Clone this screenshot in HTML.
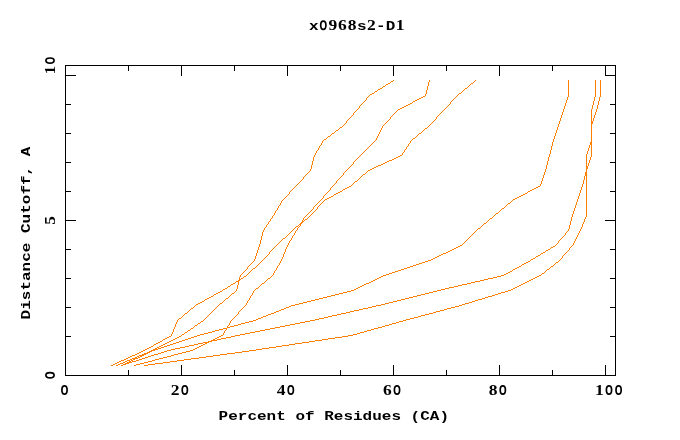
<!DOCTYPE html>
<html><head><meta charset="utf-8"><style>
html,body{margin:0;padding:0;background:#fff;width:680px;height:440px;overflow:hidden}
svg{position:absolute;left:0;top:0;will-change:transform}
</style></head><body>
<svg width="680" height="440" viewBox="0 0 680 440">
<path fill="#ff8000" shape-rendering="crispEdges" d="M391 81h2v1h-2zM388 83h2v1h-2zM471 83h2v1h-2zM386 84h2v1h-2zM383 86h2v1h-2zM380 88h2v1h-2zM465 88h2v1h-2zM378 89h2v1h-2zM375 91h2v1h-2zM372 93h2v1h-2zM459 93h2v1h-2zM370 94h2v1h-2zM423 96h2v1h-2zM421 97h2v1h-2zM419 98h2v1h-2zM417 99h2v1h-2zM415 100h2v1h-2zM413 101h2v1h-2zM410 103h2v1h-2zM408 104h2v1h-2zM406 105h2v1h-2zM404 106h2v1h-2zM402 107h2v1h-2zM400 108h2v1h-2zM398 109h2v1h-2zM591 121h2v1h-2zM591 122h2v1h-2zM591 123h2v1h-2zM340 127h2v1h-2zM425 128h2v1h-2zM336 130h2v1h-2zM332 133h2v1h-2zM419 133h2v1h-2zM328 136h2v1h-2zM413 138h2v1h-2zM324 139h2v1h-2zM590 142h2v1h-2zM590 143h2v1h-2zM590 144h2v1h-2zM400 155h2v1h-2zM398 156h2v1h-2zM396 157h2v1h-2zM394 158h2v1h-2zM392 159h2v1h-2zM389 160h3v1h-3zM387 161h2v1h-2zM385 162h2v1h-2zM383 163h2v1h-2zM381 164h2v1h-2zM378 165h3v1h-3zM376 166h2v1h-2zM586 166h2v1h-2zM374 167h2v1h-2zM586 167h2v1h-2zM372 168h2v1h-2zM586 168h2v1h-2zM370 169h2v1h-2zM368 170h2v1h-2zM585 172h2v1h-2zM585 173h2v1h-2zM363 174h2v1h-2zM585 174h2v1h-2zM585 175h2v1h-2zM355 181h2v1h-2zM349 186h2v1h-2zM538 186h2v1h-2zM347 187h2v1h-2zM536 187h2v1h-2zM345 188h2v1h-2zM534 188h2v1h-2zM343 189h2v1h-2zM532 189h2v1h-2zM530 190h2v1h-2zM340 191h2v1h-2zM528 191h2v1h-2zM338 192h2v1h-2zM336 193h2v1h-2zM525 193h2v1h-2zM334 194h2v1h-2zM523 194h2v1h-2zM521 195h2v1h-2zM331 196h2v1h-2zM519 196h2v1h-2zM329 197h2v1h-2zM517 197h2v1h-2zM327 198h2v1h-2zM515 198h2v1h-2zM325 199h2v1h-2zM513 199h2v1h-2zM508 203h2v1h-2zM502 208h2v1h-2zM496 213h2v1h-2zM490 218h2v1h-2zM305 219h2v1h-2zM302 221h2v1h-2zM301 222h2v1h-2zM300 223h2v1h-2zM484 223h2v1h-2zM299 224h2v1h-2zM296 226h2v1h-2zM478 228h2v1h-2zM283 238h2v1h-2zM460 245h2v1h-2zM458 246h2v1h-2zM553 246h2v1h-2zM456 247h2v1h-2zM551 247h2v1h-2zM454 248h2v1h-2zM452 249h2v1h-2zM548 249h2v1h-2zM450 250h2v1h-2zM546 250h2v1h-2zM448 251h2v1h-2zM446 252h2v1h-2zM543 252h2v1h-2zM443 253h3v1h-3zM541 253h2v1h-2zM441 254h2v1h-2zM439 255h2v1h-2zM538 255h2v1h-2zM437 256h2v1h-2zM536 256h2v1h-2zM435 257h2v1h-2zM433 258h2v1h-2zM533 258h2v1h-2zM431 259h2v1h-2zM531 259h2v1h-2zM428 260h3v1h-3zM425 261h3v1h-3zM528 261h2v1h-2zM422 262h3v1h-3zM526 262h2v1h-2zM556 262h2v1h-2zM419 263h3v1h-3zM524 263h2v1h-2zM416 264h3v1h-3zM522 264h2v1h-2zM413 265h3v1h-3zM410 266h3v1h-3zM519 266h2v1h-2zM551 266h2v1h-2zM407 267h3v1h-3zM517 267h2v1h-2zM253 268h2v1h-2zM404 268h3v1h-3zM515 268h2v1h-2zM401 269h3v1h-3zM513 269h2v1h-2zM547 269h2v1h-2zM398 270h3v1h-3zM395 271h3v1h-3zM510 271h2v1h-2zM392 272h3v1h-3zM508 272h2v1h-2zM389 273h3v1h-3zM506 273h2v1h-2zM542 273h2v1h-2zM386 274h3v1h-3zM504 274h2v1h-2zM383 275h3v1h-3zM501 275h3v1h-3zM539 275h2v1h-2zM244 276h2v1h-2zM381 276h2v1h-2zM497 276h4v1h-4zM537 276h2v1h-2zM379 277h2v1h-2zM493 277h4v1h-4zM535 277h2v1h-2zM241 278h2v1h-2zM268 278h2v1h-2zM377 278h2v1h-2zM488 278h5v1h-5zM533 278h2v1h-2zM239 279h2v1h-2zM375 279h2v1h-2zM484 279h4v1h-4zM531 279h2v1h-2zM238 280h2v1h-2zM373 280h2v1h-2zM480 280h4v1h-4zM529 280h2v1h-2zM236 281h3v1h-3zM371 281h2v1h-2zM475 281h5v1h-5zM527 281h2v1h-2zM369 282h2v1h-2zM471 282h4v1h-4zM525 282h2v1h-2zM233 283h2v1h-2zM262 283h2v1h-2zM366 283h3v1h-3zM467 283h4v1h-4zM523 283h2v1h-2zM231 284h2v1h-2zM364 284h2v1h-2zM462 284h5v1h-5zM521 284h2v1h-2zM362 285h2v1h-2zM458 285h4v1h-4zM519 285h2v1h-2zM228 286h2v1h-2zM360 286h2v1h-2zM454 286h4v1h-4zM517 286h2v1h-2zM358 287h2v1h-2zM449 287h5v1h-5zM515 287h2v1h-2zM225 288h2v1h-2zM256 288h2v1h-2zM356 288h2v1h-2zM445 288h4v1h-4zM513 288h2v1h-2zM223 289h2v1h-2zM354 289h2v1h-2zM441 289h4v1h-4zM511 289h2v1h-2zM351 290h3v1h-3zM437 290h4v1h-4zM508 290h3v1h-3zM220 291h2v1h-2zM347 291h4v1h-4zM433 291h4v1h-4zM505 291h3v1h-3zM218 292h2v1h-2zM343 292h4v1h-4zM429 292h4v1h-4zM501 292h4v1h-4zM216 293h2v1h-2zM232 293h2v1h-2zM339 293h4v1h-4zM425 293h4v1h-4zM498 293h3v1h-3zM214 294h2v1h-2zM335 294h4v1h-4zM421 294h4v1h-4zM495 294h3v1h-3zM331 295h4v1h-4zM417 295h4v1h-4zM492 295h3v1h-3zM211 296h2v1h-2zM327 296h4v1h-4zM413 296h4v1h-4zM488 296h4v1h-4zM209 297h2v1h-2zM323 297h4v1h-4zM409 297h4v1h-4zM485 297h3v1h-3zM207 298h2v1h-2zM226 298h2v1h-2zM319 298h4v1h-4zM405 298h4v1h-4zM482 298h3v1h-3zM205 299h2v1h-2zM315 299h4v1h-4zM401 299h4v1h-4zM478 299h4v1h-4zM311 300h4v1h-4zM397 300h4v1h-4zM475 300h3v1h-3zM202 301h2v1h-2zM307 301h4v1h-4zM393 301h4v1h-4zM472 301h3v1h-3zM200 302h2v1h-2zM303 302h4v1h-4zM389 302h4v1h-4zM469 302h3v1h-3zM198 303h2v1h-2zM220 303h2v1h-2zM299 303h4v1h-4zM385 303h4v1h-4zM465 303h4v1h-4zM196 304h2v1h-2zM295 304h4v1h-4zM381 304h4v1h-4zM462 304h3v1h-3zM291 305h4v1h-4zM376 305h5v1h-5zM459 305h3v1h-3zM289 306h2v1h-2zM372 306h4v1h-4zM455 306h4v1h-4zM286 307h3v1h-3zM368 307h4v1h-4zM451 307h4v1h-4zM191 308h2v1h-2zM284 308h2v1h-2zM363 308h5v1h-5zM447 308h4v1h-4zM281 309h3v1h-3zM359 309h4v1h-4zM444 309h3v1h-3zM279 310h2v1h-2zM354 310h5v1h-5zM440 310h4v1h-4zM276 311h3v1h-3zM350 311h4v1h-4zM436 311h4v1h-4zM274 312h2v1h-2zM346 312h4v1h-4zM433 312h3v1h-3zM185 313h2v1h-2zM271 313h3v1h-3zM341 313h5v1h-5zM429 313h4v1h-4zM268 314h3v1h-3zM337 314h4v1h-4zM425 314h4v1h-4zM266 315h2v1h-2zM332 315h5v1h-5zM421 315h4v1h-4zM263 316h3v1h-3zM328 316h4v1h-4zM418 316h3v1h-3zM261 317h2v1h-2zM324 317h4v1h-4zM414 317h4v1h-4zM179 318h2v1h-2zM258 318h3v1h-3zM319 318h5v1h-5zM410 318h4v1h-4zM256 319h2v1h-2zM315 319h4v1h-4zM406 319h4v1h-4zM253 320h3v1h-3zM310 320h5v1h-5zM403 320h3v1h-3zM201 321h2v1h-2zM249 321h4v1h-4zM305 321h5v1h-5zM399 321h4v1h-4zM245 322h4v1h-4zM300 322h5v1h-5zM396 322h3v1h-3zM198 323h2v1h-2zM241 323h4v1h-4zM295 323h5v1h-5zM392 323h4v1h-4zM238 324h3v1h-3zM290 324h5v1h-5zM389 324h3v1h-3zM195 325h2v1h-2zM234 325h4v1h-4zM285 325h5v1h-5zM385 325h4v1h-4zM230 326h4v1h-4zM280 326h5v1h-5zM382 326h3v1h-3zM227 327h3v1h-3zM275 327h5v1h-5zM378 327h4v1h-4zM191 328h2v1h-2zM223 328h4v1h-4zM270 328h5v1h-5zM374 328h4v1h-4zM219 329h4v1h-4zM265 329h5v1h-5zM371 329h3v1h-3zM188 330h2v1h-2zM215 330h4v1h-4zM260 330h5v1h-5zM367 330h4v1h-4zM212 331h3v1h-3zM255 331h5v1h-5zM364 331h3v1h-3zM185 332h2v1h-2zM208 332h4v1h-4zM250 332h5v1h-5zM360 332h4v1h-4zM204 333h4v1h-4zM245 333h5v1h-5zM357 333h3v1h-3zM182 334h2v1h-2zM200 334h4v1h-4zM240 334h5v1h-5zM353 334h4v1h-4zM197 335h3v1h-3zM221 335h2v1h-2zM235 335h5v1h-5zM348 335h5v1h-5zM169 336h2v1h-2zM179 336h2v1h-2zM194 336h3v1h-3zM219 336h2v1h-2zM231 336h4v1h-4zM342 336h6v1h-6zM167 337h2v1h-2zM177 337h2v1h-2zM191 337h3v1h-3zM217 337h2v1h-2zM226 337h5v1h-5zM335 337h7v1h-7zM165 338h2v1h-2zM175 338h2v1h-2zM188 338h3v1h-3zM215 338h2v1h-2zM221 338h5v1h-5zM328 338h7v1h-7zM163 339h2v1h-2zM173 339h2v1h-2zM185 339h3v1h-3zM213 339h2v1h-2zM217 339h4v1h-4zM322 339h6v1h-6zM171 340h2v1h-2zM182 340h3v1h-3zM211 340h6v1h-6zM315 340h7v1h-7zM160 341h2v1h-2zM169 341h2v1h-2zM179 341h3v1h-3zM208 341h4v1h-4zM309 341h6v1h-6zM158 342h2v1h-2zM167 342h2v1h-2zM176 342h3v1h-3zM203 342h6v1h-6zM302 342h7v1h-7zM156 343h2v1h-2zM165 343h2v1h-2zM173 343h3v1h-3zM198 343h5v1h-5zM205 343h2v1h-2zM295 343h7v1h-7zM154 344h2v1h-2zM163 344h2v1h-2zM170 344h3v1h-3zM194 344h4v1h-4zM203 344h2v1h-2zM289 344h6v1h-6zM161 345h2v1h-2zM167 345h3v1h-3zM189 345h5v1h-5zM201 345h2v1h-2zM282 345h7v1h-7zM151 346h2v1h-2zM159 346h2v1h-2zM164 346h3v1h-3zM185 346h4v1h-4zM199 346h2v1h-2zM276 346h6v1h-6zM149 347h2v1h-2zM157 347h2v1h-2zM161 347h3v1h-3zM180 347h5v1h-5zM197 347h2v1h-2zM269 347h7v1h-7zM147 348h2v1h-2zM155 348h2v1h-2zM158 348h3v1h-3zM175 348h5v1h-5zM195 348h2v1h-2zM262 348h7v1h-7zM145 349h2v1h-2zM153 349h5v1h-5zM171 349h4v1h-4zM193 349h2v1h-2zM256 349h6v1h-6zM143 350h2v1h-2zM151 350h4v1h-4zM167 350h4v1h-4zM190 350h3v1h-3zM249 350h7v1h-7zM141 351h2v1h-2zM149 351h3v1h-3zM164 351h3v1h-3zM186 351h4v1h-4zM242 351h7v1h-7zM139 352h2v1h-2zM147 352h3v1h-3zM161 352h3v1h-3zM182 352h4v1h-4zM235 352h7v1h-7zM137 353h2v1h-2zM144 353h4v1h-4zM158 353h3v1h-3zM178 353h4v1h-4zM227 353h8v1h-8zM135 354h2v1h-2zM142 354h4v1h-4zM154 354h4v1h-4zM174 354h4v1h-4zM220 354h7v1h-7zM132 355h3v1h-3zM139 355h5v1h-5zM151 355h3v1h-3zM171 355h3v1h-3zM213 355h7v1h-7zM130 356h2v1h-2zM137 356h2v1h-2zM140 356h2v1h-2zM148 356h3v1h-3zM167 356h4v1h-4zM206 356h7v1h-7zM128 357h2v1h-2zM135 357h2v1h-2zM138 357h2v1h-2zM145 357h3v1h-3zM163 357h4v1h-4zM199 357h7v1h-7zM126 358h2v1h-2zM132 358h6v1h-6zM142 358h3v1h-3zM159 358h4v1h-4zM191 358h8v1h-8zM124 359h2v1h-2zM130 359h2v1h-2zM133 359h2v1h-2zM139 359h3v1h-3zM155 359h4v1h-4zM184 359h7v1h-7zM121 360h3v1h-3zM127 360h3v1h-3zM131 360h2v1h-2zM136 360h3v1h-3zM152 360h3v1h-3zM177 360h7v1h-7zM119 361h2v1h-2zM125 361h2v1h-2zM129 361h2v1h-2zM132 361h4v1h-4zM148 361h4v1h-4zM170 361h7v1h-7zM117 362h2v1h-2zM123 362h2v1h-2zM127 362h5v1h-5zM144 362h4v1h-4zM163 362h7v1h-7zM115 363h2v1h-2zM120 363h3v1h-3zM125 363h4v1h-4zM140 363h4v1h-4zM155 363h8v1h-8zM113 364h2v1h-2zM118 364h2v1h-2zM123 364h3v1h-3zM136 364h4v1h-4zM148 364h7v1h-7zM111 365h2v1h-2zM116 365h2v1h-2zM121 365h2v1h-2zM134 365h2v1h-2zM144 365h4v1h-4zM393 80h1v1h-1zM393 114h1v1h-1zM429 80h1v2h-1zM429 125h1v1h-1zM475 80h1v1h-1zM475 231h1v1h-1zM568 80h1v17h-1zM568 229h1v2h-1zM568 250h1v1h-1zM595 80h1v17h-1zM595 112h1v3h-1zM600 80h1v17h-1zM474 81h1v1h-1zM474 232h1v1h-1zM390 82h1v1h-1zM390 117h1v2h-1zM428 82h1v4h-1zM428 126h1v1h-1zM473 82h1v1h-1zM473 233h1v1h-1zM470 84h1v1h-1zM470 236h1v1h-1zM385 85h1v1h-1zM385 123h1v1h-1zM469 85h1v1h-1zM469 237h1v1h-1zM427 86h1v4h-1zM427 127h1v1h-1zM468 86h1v1h-1zM468 238h1v1h-1zM382 87h1v1h-1zM382 126h1v2h-1zM467 87h1v1h-1zM467 239h1v1h-1zM464 89h1v1h-1zM464 242h1v1h-1zM377 90h1v1h-1zM377 136h1v2h-1zM426 90h1v4h-1zM463 90h1v1h-1zM463 243h1v1h-1zM462 91h1v1h-1zM462 244h1v1h-1zM374 92h1v1h-1zM374 141h1v1h-1zM461 92h1v1h-1zM425 94h1v2h-1zM458 94h1v1h-1zM369 95h1v1h-1zM369 146h1v1h-1zM457 95h1v1h-1zM368 96h1v1h-1zM368 147h1v1h-1zM456 96h1v1h-1zM367 97h1v1h-1zM367 148h1v1h-1zM367 171h1v1h-1zM455 97h1v1h-1zM567 97h1v3h-1zM567 231h1v1h-1zM567 251h1v1h-1zM594 97h1v4h-1zM594 115h1v3h-1zM599 97h1v4h-1zM366 98h1v2h-1zM366 149h1v1h-1zM366 172h1v1h-1zM454 98h1v1h-1zM453 99h1v1h-1zM365 100h1v1h-1zM365 150h1v1h-1zM365 173h1v1h-1zM452 100h1v1h-1zM566 100h1v3h-1zM566 232h1v1h-1zM566 252h1v1h-1zM364 101h1v1h-1zM364 151h1v1h-1zM451 101h1v1h-1zM593 101h1v4h-1zM593 118h1v3h-1zM598 101h1v4h-1zM363 102h1v1h-1zM363 152h1v1h-1zM412 102h1v1h-1zM412 139h1v1h-1zM450 102h1v2h-1zM362 103h1v1h-1zM362 153h1v1h-1zM362 175h1v1h-1zM565 103h1v3h-1zM565 233h1v2h-1zM565 253h1v1h-1zM361 104h1v1h-1zM361 154h1v1h-1zM361 176h1v1h-1zM449 104h1v1h-1zM360 105h1v1h-1zM360 155h1v1h-1zM360 177h1v1h-1zM448 105h1v1h-1zM592 105h1v4h-1zM597 105h1v4h-1zM359 106h1v2h-1zM359 156h1v1h-1zM359 178h1v1h-1zM447 106h1v1h-1zM564 106h1v3h-1zM564 235h1v1h-1zM564 254h1v1h-1zM446 107h1v1h-1zM358 108h1v1h-1zM358 157h1v1h-1zM358 179h1v1h-1zM445 108h1v1h-1zM357 109h1v1h-1zM357 158h1v1h-1zM357 180h1v1h-1zM444 109h1v1h-1zM563 109h1v3h-1zM563 236h1v1h-1zM563 255h1v1h-1zM591 109h1v12h-1zM591 124h1v18h-1zM591 145h1v12h-1zM596 109h1v3h-1zM356 110h1v1h-1zM356 159h1v1h-1zM397 110h1v1h-1zM443 110h1v1h-1zM355 111h1v1h-1zM355 160h1v1h-1zM396 111h1v1h-1zM442 111h1v1h-1zM354 112h1v1h-1zM354 161h1v1h-1zM354 182h1v1h-1zM395 112h1v1h-1zM441 112h1v1h-1zM562 112h1v3h-1zM562 237h1v1h-1zM562 256h1v2h-1zM353 113h1v2h-1zM353 162h1v2h-1zM353 183h1v1h-1zM394 113h1v1h-1zM440 113h1v1h-1zM439 114h1v1h-1zM352 115h1v1h-1zM352 164h1v1h-1zM352 184h1v1h-1zM392 115h1v1h-1zM438 115h1v1h-1zM561 115h1v3h-1zM561 238h1v1h-1zM561 258h1v1h-1zM351 116h1v1h-1zM351 165h1v1h-1zM351 185h1v1h-1zM391 116h1v1h-1zM437 116h1v1h-1zM350 117h1v1h-1zM350 166h1v1h-1zM436 117h1v2h-1zM349 118h1v1h-1zM349 167h1v1h-1zM560 118h1v3h-1zM560 239h1v1h-1zM560 259h1v1h-1zM348 119h1v1h-1zM348 168h1v1h-1zM389 119h1v1h-1zM435 119h1v1h-1zM347 120h1v1h-1zM347 169h1v1h-1zM388 120h1v1h-1zM434 120h1v1h-1zM346 121h1v2h-1zM346 170h1v1h-1zM387 121h1v1h-1zM433 121h1v1h-1zM559 121h1v3h-1zM559 240h1v1h-1zM559 260h1v1h-1zM386 122h1v1h-1zM432 122h1v1h-1zM345 123h1v1h-1zM345 171h1v1h-1zM431 123h1v1h-1zM344 124h1v1h-1zM344 172h1v1h-1zM384 124h1v1h-1zM430 124h1v1h-1zM558 124h1v3h-1zM558 241h1v2h-1zM558 261h1v1h-1zM343 125h1v1h-1zM343 173h1v2h-1zM383 125h1v1h-1zM342 126h1v1h-1zM342 175h1v1h-1zM342 190h1v1h-1zM557 127h1v3h-1zM557 243h1v1h-1zM339 128h1v1h-1zM339 178h1v1h-1zM381 128h1v2h-1zM338 129h1v1h-1zM338 179h1v1h-1zM424 129h1v1h-1zM380 130h1v2h-1zM423 130h1v1h-1zM556 130h1v3h-1zM556 244h1v1h-1zM335 131h1v1h-1zM335 183h1v1h-1zM422 131h1v1h-1zM334 132h1v1h-1zM334 184h1v1h-1zM379 132h1v2h-1zM421 132h1v1h-1zM555 133h1v3h-1zM555 245h1v1h-1zM555 263h1v1h-1zM331 134h1v1h-1zM331 187h1v1h-1zM378 134h1v2h-1zM418 134h1v1h-1zM330 135h1v1h-1zM330 188h1v2h-1zM417 135h1v1h-1zM416 136h1v1h-1zM554 136h1v3h-1zM554 264h1v1h-1zM327 137h1v1h-1zM327 192h1v1h-1zM415 137h1v1h-1zM326 138h1v1h-1zM326 193h1v1h-1zM376 138h1v2h-1zM553 139h1v3h-1zM553 265h1v1h-1zM323 140h1v1h-1zM323 196h1v2h-1zM323 201h1v1h-1zM375 140h1v1h-1zM411 140h1v1h-1zM322 141h1v2h-1zM322 198h1v1h-1zM322 202h1v1h-1zM410 141h1v2h-1zM373 142h1v1h-1zM552 142h1v4h-1zM321 143h1v2h-1zM321 199h1v1h-1zM321 203h1v1h-1zM372 143h1v1h-1zM409 143h1v1h-1zM371 144h1v1h-1zM408 144h1v2h-1zM320 145h1v1h-1zM320 200h1v1h-1zM320 204h1v1h-1zM370 145h1v1h-1zM589 145h1v3h-1zM589 160h1v3h-1zM319 146h1v2h-1zM319 201h1v1h-1zM319 205h1v1h-1zM407 146h1v1h-1zM551 146h1v4h-1zM406 147h1v2h-1zM318 148h1v2h-1zM318 202h1v1h-1zM318 206h1v1h-1zM588 148h1v3h-1zM588 163h1v3h-1zM405 149h1v1h-1zM317 150h1v1h-1zM317 203h1v1h-1zM317 207h1v2h-1zM404 150h1v2h-1zM550 150h1v4h-1zM550 248h1v1h-1zM550 267h1v1h-1zM316 151h1v2h-1zM316 204h1v1h-1zM316 209h1v1h-1zM587 151h1v3h-1zM403 152h1v1h-1zM315 153h1v2h-1zM315 205h1v1h-1zM315 210h1v1h-1zM402 153h1v2h-1zM549 154h1v3h-1zM549 268h1v1h-1zM586 154h1v12h-1zM586 169h1v3h-1zM586 176h1v41h-1zM314 155h1v2h-1zM314 206h1v1h-1zM314 211h1v1h-1zM313 157h1v4h-1zM313 207h1v2h-1zM313 212h1v1h-1zM548 157h1v4h-1zM590 157h1v3h-1zM312 161h1v4h-1zM312 209h1v1h-1zM312 213h1v1h-1zM547 161h1v4h-1zM311 165h1v4h-1zM311 210h1v1h-1zM311 214h1v1h-1zM546 165h1v4h-1zM546 270h1v1h-1zM310 169h1v2h-1zM310 211h1v1h-1zM310 215h1v1h-1zM545 169h1v3h-1zM545 251h1v1h-1zM545 271h1v1h-1zM309 171h1v1h-1zM309 212h1v1h-1zM309 216h1v1h-1zM308 172h1v1h-1zM308 213h1v1h-1zM308 217h1v1h-1zM544 172h1v3h-1zM544 272h1v1h-1zM307 173h1v1h-1zM307 214h1v1h-1zM307 218h1v1h-1zM306 174h1v1h-1zM306 215h1v1h-1zM305 175h1v1h-1zM305 216h1v1h-1zM543 175h1v3h-1zM304 176h1v1h-1zM304 217h1v1h-1zM304 220h1v1h-1zM341 176h1v1h-1zM584 176h1v4h-1zM584 219h1v3h-1zM303 177h1v2h-1zM303 218h1v2h-1zM340 177h1v1h-1zM542 178h1v3h-1zM302 179h1v1h-1zM302 220h1v1h-1zM301 180h1v1h-1zM337 180h1v1h-1zM583 180h1v4h-1zM583 222h1v2h-1zM300 181h1v1h-1zM300 225h1v1h-1zM336 181h1v2h-1zM541 181h1v3h-1zM541 274h1v1h-1zM299 182h1v1h-1zM299 226h1v1h-1zM298 183h1v1h-1zM298 225h1v1h-1zM298 227h1v1h-1zM297 184h1v1h-1zM297 228h1v2h-1zM540 184h1v2h-1zM540 254h1v1h-1zM582 184h1v3h-1zM582 224h1v3h-1zM296 185h1v1h-1zM296 230h1v1h-1zM333 185h1v1h-1zM333 195h1v1h-1zM295 186h1v1h-1zM295 227h1v1h-1zM295 231h1v2h-1zM332 186h1v1h-1zM294 187h1v1h-1zM294 228h1v1h-1zM294 233h1v2h-1zM581 187h1v3h-1zM581 227h1v2h-1zM293 188h1v1h-1zM293 229h1v1h-1zM293 235h1v1h-1zM292 189h1v1h-1zM292 230h1v1h-1zM292 236h1v2h-1zM291 190h1v1h-1zM291 231h1v1h-1zM291 238h1v2h-1zM329 190h1v1h-1zM580 190h1v3h-1zM580 229h1v2h-1zM290 191h1v1h-1zM290 232h1v1h-1zM290 240h1v1h-1zM328 191h1v1h-1zM289 192h1v2h-1zM289 233h1v1h-1zM289 241h1v2h-1zM527 192h1v1h-1zM579 193h1v3h-1zM579 231h1v2h-1zM288 194h1v1h-1zM288 234h1v1h-1zM288 243h1v2h-1zM325 194h1v1h-1zM287 195h1v1h-1zM287 235h1v1h-1zM287 245h1v2h-1zM324 195h1v1h-1zM324 200h1v1h-1zM286 196h1v1h-1zM286 236h1v1h-1zM286 247h1v2h-1zM578 196h1v3h-1zM578 233h1v2h-1zM285 197h1v1h-1zM285 237h1v1h-1zM285 249h1v3h-1zM284 198h1v1h-1zM284 252h1v2h-1zM283 199h1v1h-1zM283 254h1v3h-1zM577 199h1v3h-1zM577 235h1v2h-1zM282 200h1v1h-1zM282 239h1v1h-1zM282 257h1v2h-1zM512 200h1v1h-1zM512 270h1v1h-1zM281 201h1v2h-1zM281 240h1v1h-1zM281 259h1v2h-1zM511 201h1v1h-1zM510 202h1v1h-1zM576 202h1v3h-1zM576 237h1v2h-1zM280 203h1v2h-1zM280 241h1v1h-1zM280 261h1v2h-1zM507 204h1v1h-1zM279 205h1v1h-1zM279 242h1v1h-1zM279 263h1v2h-1zM506 205h1v1h-1zM575 205h1v3h-1zM575 239h1v2h-1zM278 206h1v2h-1zM278 243h1v1h-1zM278 265h1v1h-1zM505 206h1v1h-1zM504 207h1v1h-1zM277 208h1v2h-1zM277 244h1v1h-1zM277 266h1v2h-1zM574 208h1v3h-1zM574 241h1v2h-1zM501 209h1v1h-1zM276 210h1v1h-1zM276 245h1v1h-1zM276 268h1v2h-1zM500 210h1v1h-1zM275 211h1v2h-1zM275 246h1v1h-1zM275 270h1v1h-1zM499 211h1v1h-1zM573 211h1v3h-1zM573 243h1v2h-1zM498 212h1v1h-1zM274 213h1v2h-1zM274 247h1v1h-1zM274 271h1v2h-1zM495 214h1v1h-1zM572 214h1v3h-1zM572 245h1v1h-1zM273 215h1v1h-1zM273 248h1v1h-1zM273 273h1v2h-1zM494 215h1v1h-1zM272 216h1v2h-1zM272 249h1v1h-1zM272 275h1v1h-1zM493 216h1v1h-1zM492 217h1v1h-1zM571 217h1v4h-1zM571 246h1v1h-1zM585 217h1v2h-1zM271 218h1v1h-1zM271 250h1v1h-1zM271 276h1v1h-1zM270 219h1v2h-1zM270 251h1v1h-1zM270 277h1v1h-1zM489 219h1v1h-1zM488 220h1v1h-1zM269 221h1v1h-1zM269 252h1v2h-1zM487 221h1v1h-1zM570 221h1v4h-1zM570 247h1v1h-1zM268 222h1v2h-1zM268 254h1v1h-1zM486 222h1v1h-1zM267 224h1v1h-1zM267 255h1v1h-1zM267 279h1v1h-1zM483 224h1v1h-1zM266 225h1v2h-1zM266 256h1v1h-1zM266 280h1v1h-1zM482 225h1v1h-1zM569 225h1v4h-1zM569 248h1v2h-1zM481 226h1v1h-1zM265 227h1v1h-1zM265 257h1v1h-1zM265 281h1v1h-1zM480 227h1v1h-1zM264 228h1v2h-1zM264 258h1v1h-1zM264 282h1v1h-1zM477 229h1v1h-1zM263 230h1v2h-1zM263 259h1v1h-1zM476 230h1v1h-1zM262 232h1v4h-1zM262 260h1v1h-1zM472 234h1v1h-1zM471 235h1v1h-1zM261 236h1v4h-1zM261 261h1v1h-1zM261 284h1v1h-1zM260 240h1v4h-1zM260 262h1v1h-1zM260 285h1v1h-1zM466 240h1v1h-1zM465 241h1v1h-1zM259 244h1v3h-1zM259 263h1v1h-1zM259 286h1v1h-1zM258 247h1v3h-1zM258 264h1v1h-1zM258 287h1v1h-1zM257 250h1v3h-1zM257 265h1v1h-1zM256 253h1v3h-1zM256 266h1v1h-1zM255 256h1v3h-1zM255 267h1v1h-1zM255 289h1v1h-1zM535 257h1v1h-1zM254 259h1v2h-1zM254 290h1v1h-1zM530 260h1v1h-1zM253 261h1v1h-1zM253 291h1v2h-1zM252 262h1v1h-1zM252 269h1v1h-1zM252 293h1v2h-1zM251 263h1v1h-1zM251 270h1v1h-1zM251 295h1v1h-1zM250 264h1v1h-1zM250 271h1v1h-1zM250 296h1v2h-1zM249 265h1v1h-1zM249 272h1v1h-1zM249 298h1v2h-1zM521 265h1v1h-1zM248 266h1v1h-1zM248 273h1v1h-1zM248 300h1v1h-1zM247 267h1v2h-1zM247 274h1v1h-1zM247 301h1v2h-1zM246 269h1v1h-1zM246 275h1v1h-1zM246 303h1v2h-1zM245 270h1v1h-1zM245 305h1v1h-1zM244 271h1v1h-1zM244 306h1v1h-1zM243 272h1v1h-1zM243 277h1v1h-1zM243 307h1v1h-1zM242 273h1v1h-1zM242 308h1v1h-1zM241 274h1v1h-1zM241 309h1v1h-1zM240 275h1v2h-1zM240 310h1v1h-1zM239 277h1v2h-1zM239 311h1v1h-1zM235 282h1v1h-1zM235 291h1v1h-1zM235 316h1v1h-1zM238 282h1v3h-1zM238 312h1v2h-1zM230 285h1v1h-1zM230 295h1v1h-1zM230 321h1v2h-1zM237 285h1v4h-1zM237 314h1v1h-1zM227 287h1v1h-1zM227 326h1v1h-1zM236 289h1v2h-1zM236 315h1v1h-1zM222 290h1v1h-1zM222 302h1v1h-1zM234 292h1v1h-1zM234 317h1v1h-1zM231 294h1v1h-1zM231 320h1v1h-1zM213 295h1v1h-1zM213 310h1v1h-1zM229 296h1v1h-1zM229 323h1v2h-1zM228 297h1v1h-1zM228 325h1v1h-1zM225 299h1v1h-1zM225 330h1v1h-1zM204 300h1v1h-1zM204 319h1v1h-1zM224 300h1v1h-1zM224 331h1v2h-1zM223 301h1v1h-1zM223 333h1v2h-1zM219 304h1v1h-1zM195 305h1v1h-1zM218 305h1v1h-1zM194 306h1v1h-1zM194 326h1v1h-1zM217 306h1v1h-1zM193 307h1v1h-1zM193 327h1v1h-1zM216 307h1v1h-1zM215 308h1v1h-1zM190 309h1v1h-1zM190 329h1v1h-1zM214 309h1v1h-1zM189 310h1v1h-1zM188 311h1v1h-1zM212 311h1v1h-1zM187 312h1v1h-1zM187 331h1v1h-1zM211 312h1v1h-1zM210 313h1v1h-1zM184 314h1v1h-1zM184 333h1v1h-1zM209 314h1v1h-1zM183 315h1v1h-1zM208 315h1v1h-1zM182 316h1v1h-1zM207 316h1v1h-1zM181 317h1v1h-1zM181 335h1v1h-1zM206 317h1v1h-1zM205 318h1v1h-1zM233 318h1v1h-1zM178 319h1v1h-1zM232 319h1v1h-1zM177 320h1v2h-1zM203 320h1v1h-1zM176 322h1v2h-1zM200 322h1v1h-1zM175 324h1v3h-1zM197 324h1v1h-1zM174 327h1v2h-1zM173 329h1v3h-1zM226 329h1v1h-1zM172 332h1v2h-1zM171 334h1v2h-1zM162 340h1v1h-1zM153 345h1v1h-1z"/>
<g shape-rendering="crispEdges">
<rect x="65.5" y="65.5" width="550" height="310" fill="none" stroke="#000" stroke-width="1"/>
<path d="M128 65h1v6h-1zM128 370h1v6h-1zM181 65h1v11h-1zM181 365h1v11h-1zM234 65h1v6h-1zM234 370h1v6h-1zM287 65h1v11h-1zM287 365h1v11h-1zM340 65h1v6h-1zM340 370h1v6h-1zM393 65h1v11h-1zM393 365h1v11h-1zM446 65h1v6h-1zM446 370h1v6h-1zM499 65h1v11h-1zM499 365h1v11h-1zM552 65h1v6h-1zM552 370h1v6h-1zM605 65h1v11h-1zM605 365h1v11h-1zM65 336h6v1h-6zM610 336h6v1h-6zM65 307h6v1h-6zM610 307h6v1h-6zM65 278h6v1h-6zM610 278h6v1h-6zM65 249h6v1h-6zM610 249h6v1h-6zM65 220h11v1h-11zM605 220h11v1h-11zM65 191h6v1h-6zM610 191h6v1h-6zM65 162h6v1h-6zM610 162h6v1h-6zM65 133h6v1h-6zM610 133h6v1h-6zM65 104h6v1h-6zM610 104h6v1h-6zM65 75h11v1h-11zM605 75h11v1h-11z" fill="#000"/>
</g>
<g font-weight="bold" text-anchor="middle" fill="#000">
<text transform="translate(0 30.3) scale(1 0.83)" x="313.70" y="0" font-family="Liberation Mono" font-size="16">x</text><ellipse cx="323.30" cy="25.30" rx="2.6" ry="4.1" fill="none" stroke="#000" stroke-width="1.7"/><text transform="translate(0 30.3) scale(1 0.83)" x="332.90" y="0" font-family="Liberation Serif" font-size="17.5">9</text><text transform="translate(0 30.3) scale(1 0.83)" x="342.50" y="0" font-family="Liberation Serif" font-size="17.5">6</text><text transform="translate(0 30.3) scale(1 0.83)" x="352.10" y="0" font-family="Liberation Serif" font-size="17.5">8</text><text transform="translate(0 30.3) scale(1 0.83)" x="361.70" y="0" font-family="Liberation Mono" font-size="16">s</text><text transform="translate(0 30.3) scale(1 0.83)" x="371.30" y="0" font-family="Liberation Serif" font-size="17.5">2</text><text transform="translate(0 30.3) scale(1 0.83)" x="380.90" y="0" font-family="Liberation Mono" font-size="16">-</text><text transform="translate(0 30.3) scale(1 0.83)" x="390.50" y="0" font-family="Liberation Mono" font-size="16">D</text><text transform="translate(0 30.3) scale(1 0.83)" x="400.10" y="0" font-family="Liberation Serif" font-size="17.5">1</text>
<ellipse cx="64.50" cy="390.00" rx="2.6" ry="4.1" fill="none" stroke="#000" stroke-width="1.7"/>
<text transform="translate(0 395) scale(1 0.83)" x="175.20" y="0" font-family="Liberation Serif" font-size="17.5">2</text><ellipse cx="184.80" cy="390.00" rx="2.6" ry="4.1" fill="none" stroke="#000" stroke-width="1.7"/>
<text transform="translate(0 395) scale(1 0.83)" x="281.20" y="0" font-family="Liberation Serif" font-size="17.5">4</text><ellipse cx="290.80" cy="390.00" rx="2.6" ry="4.1" fill="none" stroke="#000" stroke-width="1.7"/>
<text transform="translate(0 395) scale(1 0.83)" x="387.40" y="0" font-family="Liberation Serif" font-size="17.5">6</text><ellipse cx="397.00" cy="390.00" rx="2.6" ry="4.1" fill="none" stroke="#000" stroke-width="1.7"/>
<text transform="translate(0 395) scale(1 0.83)" x="493.20" y="0" font-family="Liberation Serif" font-size="17.5">8</text><ellipse cx="502.80" cy="390.00" rx="2.6" ry="4.1" fill="none" stroke="#000" stroke-width="1.7"/>
<text transform="translate(0 395) scale(1 0.83)" x="599.40" y="0" font-family="Liberation Serif" font-size="17.5">1</text><ellipse cx="609.00" cy="390.00" rx="2.6" ry="4.1" fill="none" stroke="#000" stroke-width="1.7"/><ellipse cx="618.60" cy="390.00" rx="2.6" ry="4.1" fill="none" stroke="#000" stroke-width="1.7"/>
<text transform="translate(0 420) scale(1 0.83)" x="223.40" y="0" font-family="Liberation Mono" font-size="16">P</text><text transform="translate(0 420) scale(1 0.83)" x="233.00" y="0" font-family="Liberation Mono" font-size="16">e</text><text transform="translate(0 420) scale(1 0.83)" x="242.60" y="0" font-family="Liberation Mono" font-size="16">r</text><text transform="translate(0 420) scale(1 0.83)" x="252.20" y="0" font-family="Liberation Mono" font-size="16">c</text><text transform="translate(0 420) scale(1 0.83)" x="261.80" y="0" font-family="Liberation Mono" font-size="16">e</text><text transform="translate(0 420) scale(1 0.83)" x="271.40" y="0" font-family="Liberation Mono" font-size="16">n</text><text transform="translate(0 420) scale(1 0.83)" x="281.00" y="0" font-family="Liberation Mono" font-size="16">t</text><text transform="translate(0 420) scale(1 0.83)" x="300.20" y="0" font-family="Liberation Mono" font-size="16">o</text><text transform="translate(0 420) scale(1 0.83)" x="309.80" y="0" font-family="Liberation Mono" font-size="16">f</text><text transform="translate(0 420) scale(1 0.83)" x="329.00" y="0" font-family="Liberation Mono" font-size="16">R</text><text transform="translate(0 420) scale(1 0.83)" x="338.60" y="0" font-family="Liberation Mono" font-size="16">e</text><text transform="translate(0 420) scale(1 0.83)" x="348.20" y="0" font-family="Liberation Mono" font-size="16">s</text><text transform="translate(0 420) scale(1 0.83)" x="357.80" y="0" font-family="Liberation Mono" font-size="16">i</text><text transform="translate(0 420) scale(1 0.83)" x="367.40" y="0" font-family="Liberation Mono" font-size="16">d</text><text transform="translate(0 420) scale(1 0.83)" x="377.00" y="0" font-family="Liberation Mono" font-size="16">u</text><text transform="translate(0 420) scale(1 0.83)" x="386.60" y="0" font-family="Liberation Mono" font-size="16">e</text><text transform="translate(0 420) scale(1 0.83)" x="396.20" y="0" font-family="Liberation Mono" font-size="16">s</text><text transform="translate(0 420) scale(1 0.83)" x="415.40" y="0" font-family="Liberation Mono" font-size="16">(</text><text transform="translate(0 420) scale(1 0.83)" x="425.00" y="0" font-family="Liberation Mono" font-size="16">C</text><text transform="translate(0 420) scale(1 0.83)" x="434.60" y="0" font-family="Liberation Mono" font-size="16">A</text><text transform="translate(0 420) scale(1 0.83)" x="444.20" y="0" font-family="Liberation Mono" font-size="16">)</text>
<ellipse cx="50.00" cy="375.30" rx="4.1" ry="2.6" fill="none" stroke="#000" stroke-width="1.7"/>
<text transform="rotate(-90) translate(0 55) scale(1 0.83)" x="-220.50" y="0" font-family="Liberation Serif" font-size="17.5">5</text>
<text transform="rotate(-90) translate(0 55) scale(1 0.83)" x="-70.20" y="0" font-family="Liberation Serif" font-size="17.5">1</text><ellipse cx="50.00" cy="60.60" rx="4.1" ry="2.6" fill="none" stroke="#000" stroke-width="1.7"/>
<text transform="rotate(-90) translate(0 30.3) scale(1 0.83)" x="-314.60" y="0" font-family="Liberation Mono" font-size="16">D</text><text transform="rotate(-90) translate(0 30.3) scale(1 0.83)" x="-305.00" y="0" font-family="Liberation Mono" font-size="16">i</text><text transform="rotate(-90) translate(0 30.3) scale(1 0.83)" x="-295.40" y="0" font-family="Liberation Mono" font-size="16">s</text><text transform="rotate(-90) translate(0 30.3) scale(1 0.83)" x="-285.80" y="0" font-family="Liberation Mono" font-size="16">t</text><text transform="rotate(-90) translate(0 30.3) scale(1 0.83)" x="-276.20" y="0" font-family="Liberation Mono" font-size="16">a</text><text transform="rotate(-90) translate(0 30.3) scale(1 0.83)" x="-266.60" y="0" font-family="Liberation Mono" font-size="16">n</text><text transform="rotate(-90) translate(0 30.3) scale(1 0.83)" x="-257.00" y="0" font-family="Liberation Mono" font-size="16">c</text><text transform="rotate(-90) translate(0 30.3) scale(1 0.83)" x="-247.40" y="0" font-family="Liberation Mono" font-size="16">e</text><text transform="rotate(-90) translate(0 30.3) scale(1 0.83)" x="-228.20" y="0" font-family="Liberation Mono" font-size="16">C</text><text transform="rotate(-90) translate(0 30.3) scale(1 0.83)" x="-218.60" y="0" font-family="Liberation Mono" font-size="16">u</text><text transform="rotate(-90) translate(0 30.3) scale(1 0.83)" x="-209.00" y="0" font-family="Liberation Mono" font-size="16">t</text><text transform="rotate(-90) translate(0 30.3) scale(1 0.83)" x="-199.40" y="0" font-family="Liberation Mono" font-size="16">o</text><text transform="rotate(-90) translate(0 30.3) scale(1 0.83)" x="-189.80" y="0" font-family="Liberation Mono" font-size="16">f</text><text transform="rotate(-90) translate(0 30.3) scale(1 0.83)" x="-180.20" y="0" font-family="Liberation Mono" font-size="16">f</text><text transform="rotate(-90) translate(0 30.3) scale(1 0.83)" x="-170.60" y="0" font-family="Liberation Mono" font-size="16">,</text><text transform="rotate(-90) translate(0 30.3) scale(1 0.83)" x="-151.40" y="0" font-family="Liberation Mono" font-size="16">A</text>
</g>
</svg>
</body></html>
